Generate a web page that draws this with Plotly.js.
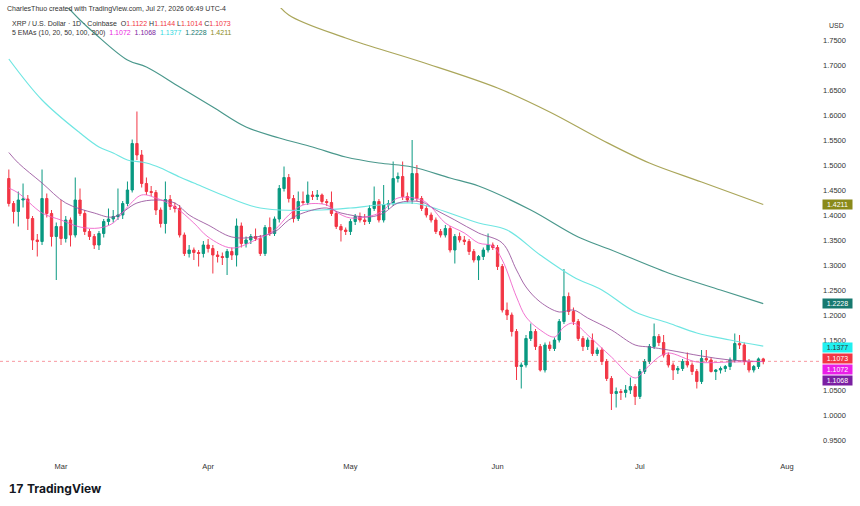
<!DOCTYPE html>
<html>
<head>
<meta charset="utf-8">
<script src="https://cdn.plot.ly/plotly-3.0.1.min.js"></script>
<style>html,body{margin:0;padding:0;background:#fff;}#chart{width:860px;height:506px;}</style>
</head>
<body>
<div id="chart"></div>
<script>
// ---- Daily candles, XRP / U.S. Dollar, Coinbase, Feb 18 - Jul 27 2026 ----
const firstDay = '2026-02-18';
const openP = [1.473,1.423,1.407,1.430,1.432,1.393,1.350,1.347,1.433,1.403,1.357,1.377,1.353,1.390,1.360,1.430,1.403,1.367,1.357,1.340,
1.363,1.387,1.392,1.397,1.400,1.423,1.450,1.543,1.520,1.463,1.447,1.445,1.410,1.383,1.431,1.417,1.413,1.360,1.323,1.330,
1.325,1.323,1.340,1.333,1.320,1.317,1.315,1.327,1.320,1.378,1.343,1.350,1.357,1.353,1.323,1.375,1.363,1.392,1.453,1.475,
1.433,1.393,1.427,1.425,1.440,1.437,1.440,1.427,1.425,1.403,1.377,1.370,1.367,1.387,1.397,1.390,1.387,1.413,1.427,1.390,
1.420,1.423,1.473,1.477,1.437,1.430,1.483,1.433,1.413,1.400,1.390,1.367,1.360,1.373,1.330,1.357,1.350,1.347,1.327,1.310,
1.317,1.330,1.340,1.335,1.297,1.210,1.200,1.167,1.097,1.100,1.153,1.167,1.137,1.090,1.140,1.133,1.150,1.187,1.237,1.207,
1.187,1.153,1.137,1.150,1.123,1.130,1.107,1.073,1.043,1.047,1.045,1.050,1.057,1.037,1.087,1.107,1.137,1.157,1.145,1.120,
1.100,1.090,1.093,1.107,1.100,1.087,1.067,1.113,1.110,1.087,1.090,1.093,1.097,1.110,1.143,1.140,1.107,1.090,1.097,1.1122];
const highP = [1.491,1.428,1.447,1.463,1.440,1.398,1.362,1.491,1.443,1.410,1.385,1.430,1.398,1.395,1.475,1.453,1.410,1.372,1.362,1.368,
1.392,1.413,1.410,1.453,1.428,1.467,1.551,1.607,1.530,1.475,1.458,1.450,1.415,1.467,1.440,1.425,1.420,1.365,1.340,1.335,
1.330,1.348,1.352,1.340,1.328,1.325,1.332,1.335,1.393,1.385,1.357,1.362,1.373,1.360,1.380,1.395,1.397,1.460,1.497,1.482,
1.440,1.447,1.447,1.467,1.448,1.450,1.443,1.432,1.447,1.408,1.382,1.375,1.392,1.402,1.405,1.402,1.420,1.457,1.432,1.460,
1.430,1.507,1.485,1.507,1.445,1.550,1.500,1.438,1.418,1.405,1.395,1.372,1.380,1.378,1.362,1.365,1.358,1.352,1.332,1.320,
1.335,1.363,1.345,1.340,1.302,1.225,1.205,1.172,1.105,1.160,1.183,1.172,1.142,1.145,1.147,1.155,1.192,1.292,1.245,1.215,
1.192,1.158,1.155,1.163,1.135,1.135,1.112,1.078,1.055,1.052,1.060,1.075,1.062,1.092,1.112,1.142,1.183,1.162,1.160,1.125,
1.105,1.098,1.112,1.125,1.105,1.092,1.130,1.130,1.115,1.092,1.097,1.100,1.115,1.163,1.160,1.145,1.112,1.100,1.115,1.1144];
const lowP = [1.417,1.383,1.377,1.415,1.370,1.330,1.317,1.340,1.395,1.337,1.270,1.340,1.345,1.337,1.355,1.398,1.360,1.350,1.332,1.330,
1.355,1.380,1.385,1.390,1.392,1.418,1.445,1.510,1.455,1.440,1.438,1.400,1.375,1.363,1.410,1.405,1.355,1.318,1.315,1.310,
1.297,1.315,1.325,1.283,1.305,1.300,1.280,1.310,1.297,1.335,1.335,1.342,1.348,1.318,1.318,1.358,1.358,1.385,1.447,1.425,
1.385,1.388,1.420,1.420,1.430,1.430,1.422,1.418,1.398,1.372,1.347,1.360,1.360,1.380,1.385,1.380,1.382,1.408,1.385,1.385,
1.412,1.418,1.465,1.430,1.425,1.422,1.428,1.408,1.395,1.385,1.362,1.355,1.355,1.325,1.303,1.345,1.340,1.320,1.305,1.270,
1.310,1.325,1.330,1.290,1.205,1.190,1.157,1.070,1.053,1.095,1.148,1.130,1.087,1.085,1.128,1.128,1.145,1.182,1.200,1.180,
1.148,1.128,1.130,1.118,1.118,1.100,1.068,1.010,1.015,1.030,1.035,1.042,1.020,1.032,1.082,1.102,1.132,1.138,1.115,1.095,
1.070,1.082,1.088,1.095,1.080,1.053,1.062,1.106,1.085,1.070,1.083,1.086,1.090,1.105,1.132,1.100,1.085,1.085,1.092,1.1014];
const closeP = [1.423,1.407,1.430,1.432,1.393,1.350,1.347,1.433,1.403,1.357,1.377,1.353,1.390,1.360,1.430,1.403,1.367,1.357,1.340,1.363,
1.387,1.392,1.397,1.400,1.423,1.450,1.543,1.520,1.463,1.447,1.445,1.410,1.383,1.431,1.417,1.413,1.360,1.323,1.330,1.325,
1.323,1.340,1.333,1.320,1.317,1.315,1.327,1.320,1.378,1.343,1.350,1.357,1.353,1.323,1.375,1.363,1.392,1.453,1.475,1.433,
1.393,1.427,1.425,1.440,1.437,1.440,1.427,1.425,1.403,1.377,1.370,1.367,1.387,1.397,1.390,1.387,1.413,1.427,1.390,1.420,
1.423,1.473,1.477,1.437,1.430,1.483,1.433,1.413,1.400,1.390,1.367,1.360,1.373,1.330,1.357,1.350,1.347,1.327,1.310,1.317,
1.330,1.340,1.335,1.297,1.210,1.200,1.167,1.097,1.100,1.153,1.167,1.137,1.090,1.140,1.133,1.150,1.187,1.237,1.207,1.187,
1.153,1.137,1.150,1.123,1.130,1.107,1.073,1.043,1.047,1.045,1.050,1.057,1.037,1.087,1.107,1.137,1.157,1.145,1.120,1.100,
1.090,1.093,1.107,1.100,1.087,1.067,1.113,1.110,1.087,1.090,1.093,1.097,1.110,1.143,1.140,1.107,1.090,1.097,1.1122,1.1073];

// ---- EMA readings: day offset from Mar 1 2026, value ----
const ema10Day = [-11,-9,-4,0,4,8,11,14,17,20,24,28,31,36,41,45,48,51,56,58,61,66,68,71,76,78,81,85,88,91,93,96,98,101,104,106,108,111,116,121,123,126,128,134,141,148];
const ema10Val = [1.454,1.444,1.404,1.390,1.376,1.374,1.384,1.416,1.440,1.434,1.416,1.384,1.356,1.334,1.350,1.370,1.400,1.420,1.420,1.406,1.394,1.400,1.410,1.434,1.430,1.416,1.384,1.364,1.344,1.338,1.310,1.236,1.196,1.170,1.156,1.176,1.184,1.160,1.116,1.074,1.090,1.116,1.124,1.106,1.106,1.1072];
const ema20Day = [-11,-9,-4,1,7,11,16,20,24,27,31,36,41,45,48,51,56,59,65,68,71,76,79,83,88,93,96,98,101,105,108,111,116,121,124,128,135,141,148];
const ema20Val = [1.525,1.504,1.464,1.424,1.404,1.396,1.424,1.430,1.424,1.400,1.380,1.356,1.356,1.366,1.390,1.404,1.414,1.404,1.396,1.404,1.424,1.426,1.410,1.390,1.364,1.344,1.290,1.256,1.226,1.206,1.210,1.194,1.170,1.140,1.136,1.130,1.118,1.110,1.1068];
const ema50Day = [-11,-4,4,8,11,14,18,21,25,28,34,41,46,55,61,67,74,78,88,94,101,108,114,121,128,134,141,148];
const ema50Val = [1.712,1.630,1.564,1.536,1.524,1.510,1.504,1.494,1.476,1.464,1.440,1.416,1.410,1.410,1.414,1.420,1.424,1.416,1.384,1.370,1.320,1.276,1.250,1.206,1.184,1.164,1.150,1.1377];
const ema100Day = [0,4,7,14,18,25,32,39,46,53,60,67,74,82,88,99,109,116,128,139,148];
const ema100Val = [1.830,1.790,1.764,1.710,1.696,1.656,1.616,1.576,1.554,1.536,1.516,1.504,1.496,1.474,1.458,1.410,1.356,1.330,1.284,1.250,1.2228];
const ema200Day = [45,48,60,76,92,103,114,124,135,148];
const ema200Val = [1.830,1.800,1.754,1.706,1.654,1.606,1.550,1.504,1.466,1.4211];

const yTicks = [0.95,1.00,1.05,1.15,1.20,1.25,1.30,1.35,1.40,1.45,1.50,1.55,1.60,1.65,1.70,1.75];
const monthTicks = ['2026-03-01','2026-04-01','2026-05-01','2026-06-01','2026-07-01','2026-08-01'];
const monthLabels = ['Mar','Apr','May','Jun','Jul','Aug'];

// ---- helpers ----
const DAY = 86400000;
const MAR1 = Date.UTC(2026,2,1);
function iso(ms){ return new Date(ms).toISOString().slice(0,19).replace('T',' '); }
function dayToDate(d){ return iso(MAR1 + d*DAY); }
const startMs = Date.parse(firstDay + 'T00:00:00Z');
const dates = closeP.map((_,i)=> iso(startMs + i*DAY));

const W = 860, H = 506, ML = 0, MR = 55, MT = 8, MB = 50;
const PW = W-ML-MR, PH = H-MT-MB;
function px(x){ return (x-ML)/PW; }
function py(y){ return (H-MB-y)/PH; }

const UP = '#089981', DOWN = '#f23645';
const C10 = '#ee5cc8', C20 = '#97509b', C50 = '#6fe6e2', C100 = '#4a988c', C200 = '#aaa65a';

const traces = [
  {type:'scatter', mode:'lines', x: ema200Day.map(dayToDate), y: ema200Val, line:{color:C200,width:1.2,shape:'spline'}, hoverinfo:'skip'},
  {type:'scatter', mode:'lines', x: ema100Day.map(dayToDate), y: ema100Val, line:{color:C100,width:1.2,shape:'spline'}, hoverinfo:'skip'},
  {type:'scatter', mode:'lines', x: ema50Day.map(dayToDate), y: ema50Val, line:{color:C50,width:1.2,shape:'spline'}, hoverinfo:'skip'},
  {type:'scatter', mode:'lines', x: ema20Day.map(dayToDate), y: ema20Val, line:{color:C20,width:1,shape:'spline'}, opacity:0.85, hoverinfo:'skip'},
  {type:'scatter', mode:'lines', x: ema10Day.map(dayToDate), y: ema10Val, line:{color:C10,width:1,shape:'spline'}, opacity:0.85, hoverinfo:'skip'},
  {type:'candlestick', x: dates, open: openP, high: highP, low: lowP, close: closeP,
   increasing:{line:{color:UP,width:1}, fillcolor:UP},
   decreasing:{line:{color:DOWN,width:1}, fillcolor:DOWN},
   whiskerwidth:0, hoverinfo:'skip'}
];

const FONT = 'Liberation Sans, Arial, sans-serif';
const lastClose = closeP[closeP.length-1];
function box(text, yPix, bg, fg){
  return {xref:'paper', yref:'paper', x: px(822), y: py(yPix), xanchor:'left', yanchor:'middle',
    text:text, showarrow:false, bgcolor:bg, font:{family:FONT,size:7,color:fg}, borderpad:1, width:27, height:7};
}
function y2pix(v){ return MT + (1.814 - v)/(1.814-0.918)*PH; }

const hdr2 = 'XRP / U.S. Dollar · 1D · Coinbase  O<span style="color:#f23645">1.1122</span> H<span style="color:#f23645">1.1144</span> L<span style="color:#f23645">1.1014</span> C<span style="color:#f23645">1.1073</span>';
const hdr3 = '5 EMAs (10, 20, 50, 100, 200)  <span style="color:#e91ee0">1.1072</span>  <span style="color:#7b1fa2">1.1068</span>  <span style="color:#30d8e0">1.1377</span>  <span style="color:#17796f">1.2228</span>  <span style="color:#8a8a1a">1.4211</span>';

const layout = {
  width: W, height: H,
  margin:{l:ML, r:MR, t:MT, b:MB},
  paper_bgcolor:'#ffffff', plot_bgcolor:'#ffffff',
  showlegend:false,
  font:{family:FONT, size:7.5, color:'#333'},
  xaxis:{type:'date', range:[dayToDate(-12.86), dayToDate(156.8)], rangeslider:{visible:false},
    showgrid:false, zeroline:false, showline:false, ticks:'',
    tickvals: monthTicks, ticktext: monthLabels, tickfont:{family:FONT,size:7.5,color:'#333'}, ticklabelstandoff:4},
  yaxis:{range:[0.918,1.814], side:'right', showgrid:false, zeroline:false, showline:false, ticks:'',
    tickvals: yTicks, ticktext: yTicks.map(v=>v.toFixed(4)), tickfont:{family:FONT,size:7.5,color:'#333'}, ticklabelstandoff:17},
  shapes:[
    {type:'line', xref:'paper', x0:0, x1:px(822), yref:'y', y0:lastClose, y1:lastClose, line:{color:'#f23645', width:1, dash:'dot'}, opacity:0.5}
  ],
  annotations:[
    {xref:'paper', yref:'paper', x:px(5), y:py(9), xanchor:'left', yanchor:'middle', showarrow:false,
     text:'CharlesThuo created with TradingView.com, Jul 27, 2026 06:49 UTC-4', font:{family:FONT,size:7,color:'#333'}},
    {xref:'paper', yref:'paper', x:px(10), y:py(23), xanchor:'left', yanchor:'middle', showarrow:false,
     text:hdr2, font:{family:FONT,size:7,color:'#333'}},
    {xref:'paper', yref:'paper', x:px(10), y:py(33), xanchor:'left', yanchor:'middle', showarrow:false,
     text:hdr3, font:{family:FONT,size:7,color:'#333'}},
    {xref:'paper', yref:'paper', x:px(837), y:py(25), xanchor:'center', yanchor:'middle', showarrow:false,
     text:'USD', font:{family:FONT,size:7,color:'#333'}},
    box('1.4211', y2pix(1.4211), '#8a8a1a', '#ffffff'),
    box('1.2228', y2pix(1.2228), '#17796f', '#ffffff'),
    box('1.1377', y2pix(1.1377)+1, '#20f0f0', '#333333'),
    box('1.1073', 358.5, '#f23645', '#ffffff'),
    box('1.1072', 369.5, '#e91ee8', '#ffffff'),
    box('1.1068', 380.5, '#7b1fa2', '#ffffff'),
    {xref:'paper', yref:'paper', x:px(7), y:py(489), xanchor:'left', yanchor:'middle', showarrow:false,
     text:'<b>17</b>', font:{family:FONT,size:13,color:'#131722'}},
    {xref:'paper', yref:'paper', x:px(25), y:py(489), xanchor:'left', yanchor:'middle', showarrow:false,
     text:'<b>TradingView</b>', font:{family:'Inter, Liberation Sans, sans-serif',size:12,color:'#131722'}}
  ]
};

Plotly.newPlot('chart', traces, layout, {staticPlot:true, displayModeBar:false});
</script>
</body>
</html>
